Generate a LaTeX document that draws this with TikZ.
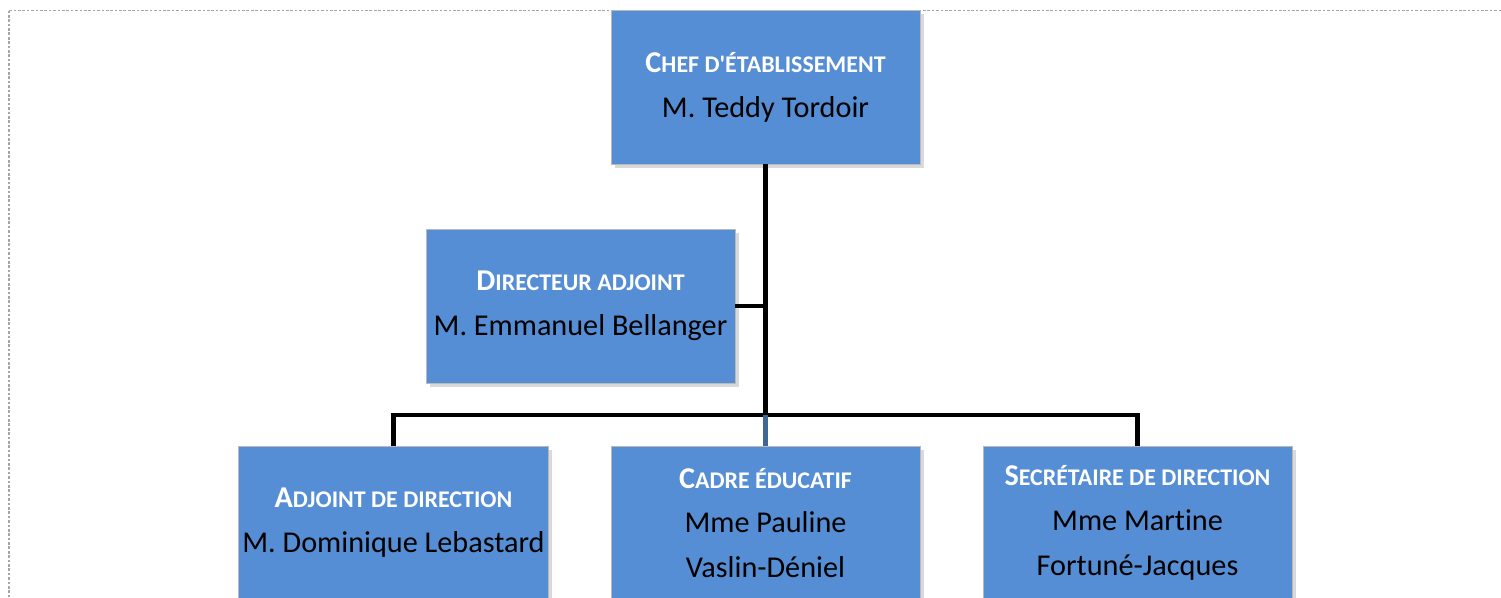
\documentclass[tikz,border=0pt]{standalone}
\usepackage{fontspec}
\setmainfont{Carlito}[Ligatures=NoCommon]
\usetikzlibrary{shadows}
\definecolor{boxblue}{RGB}{85,142,213}
\definecolor{dropblue}{RGB}{62,102,150}
\newcommand\smc[2]{{\color{white}\bfseries #1{\fontsize{13.6}{25.5}\selectfont #2}}}
\tikzset{
  poste/.style={rectangle,fill=boxblue,draw=gray!55,line width=0.5pt,
    minimum width=6.18cm,minimum height=3.08cm,align=center,inner xsep=2pt,
    font=\fontsize{17.2}{25.5}\selectfont,
    drop shadow={shadow xshift=0.07cm,shadow yshift=-0.07cm,opacity=0.3}},
  lien/.style={line width=2.8pt}
}
\begin{document}
\begin{tikzpicture}
	\useasboundingbox (0,0) rectangle (30.02,-11.94);
	\clip (0,0) rectangle (30.02,-11.94);
	\draw[gray!70,line width=1pt,dash pattern=on 1.5pt off 1pt] (0.18,-0.21) rectangle (31,-13);
	\coordinate (barre) at (15.31,-8.30);
	\node[poste] (chef) at (15.31,-1.74) {\smc{C}{HEF D\textquotesingle ÉTABLISSEMENT}\\M. Teddy Tordoir};
	\node[poste] (dir) at (11.61,-6.12) {\smc{D}{IRECTEUR ADJOINT}\\M. Emmanuel Bellanger};
	\node[poste] (adj) at (7.87,-10.46) {\smc{A}{DJOINT DE DIRECTION}\\M. Dominique Lebastard};
	\node[poste] (cadre) at (15.31,-10.46) {\smc{C}{ADRE ÉDUCATIF}\\Mme Pauline\\Vaslin-Déniel};
	\node[poste] (secr) at (22.75,-10.46) {\smc{S}{ECRÉTAIRE DE DIRECTION}\\Mme Martine\\Fortuné-Jacques};
	\draw[lien] (chef.south) -- (barre);
	\draw[lien] (dir.east) -- (dir.east -| chef.south);
	\draw[lien] (adj.north) -- (adj.north |- barre) -- (secr.north |- barre) -- (secr.north);
	\draw[lien,dropblue] (barre) -- (cadre.north);
\end{tikzpicture}
\end{document}
